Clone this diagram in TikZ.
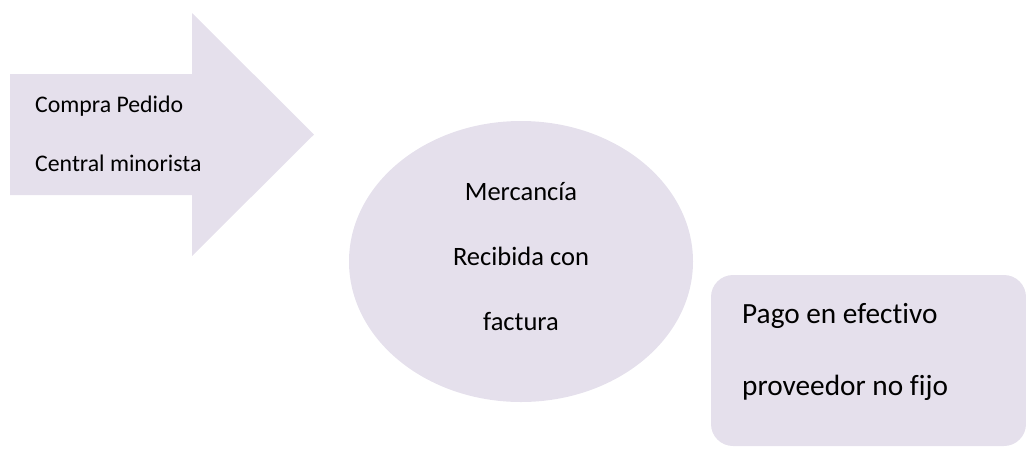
\documentclass[tikz,border=0pt]{standalone}
\usepackage{fontspec}
\setmainfont[Ligatures={NoCommon}]{Carlito}
\usetikzlibrary{shapes.geometric}
\definecolor{lav}{RGB}{229,224,236}
\tikzset{
  shapefill/.style={fill=lav, draw=none},
  lbl/.style={inner sep=0pt, anchor=base west, text=black},
  clbl/.style={inner sep=0pt, anchor=base, text=black, font=\fontsize{26.5}{26.5}\selectfont},
}
\begin{document}
\begin{tikzpicture}[x=1pt,y=-1pt]
\useasboundingbox (0,0) rectangle (1026,448);
% arrow
\fill[lav] (10,74) -- (192,74) -- (192,13) -- (314,134.5) -- (192,256) -- (192,195) -- (10,195) -- cycle;
\node[lbl, font=\fontsize{23.8}{23.8}\selectfont] (a1) at (35,112) {Compra Pedido};
\node[lbl, font=\fontsize{23.8}{23.8}\selectfont] (a2) at (35,171) {Central minorista};
% ellipse
\node[ellipse, shapefill, minimum width=344pt, minimum height=281pt, inner sep=0pt] (e) at (521,261.5) {};
\node[clbl] (e1) at (521,200) {Mercancía};
\node[clbl] (e2) at (521,265) {Recibida con};
\node[clbl] (e3) at (521,330) {factura};
% rounded box
\node[shapefill, rectangle, rounded corners=22pt, minimum width=315pt, minimum height=171pt, inner sep=0pt] (b) at (868.5,360.5) {};
\node[lbl, font=\fontsize{29.3}{29.3}\selectfont] (b1) at (742,323) {Pago en efectivo};
\node[lbl, font=\fontsize{29.3}{29.3}\selectfont] (b2) at (742,395) {proveedor no fijo};
\end{tikzpicture}
\end{document}
